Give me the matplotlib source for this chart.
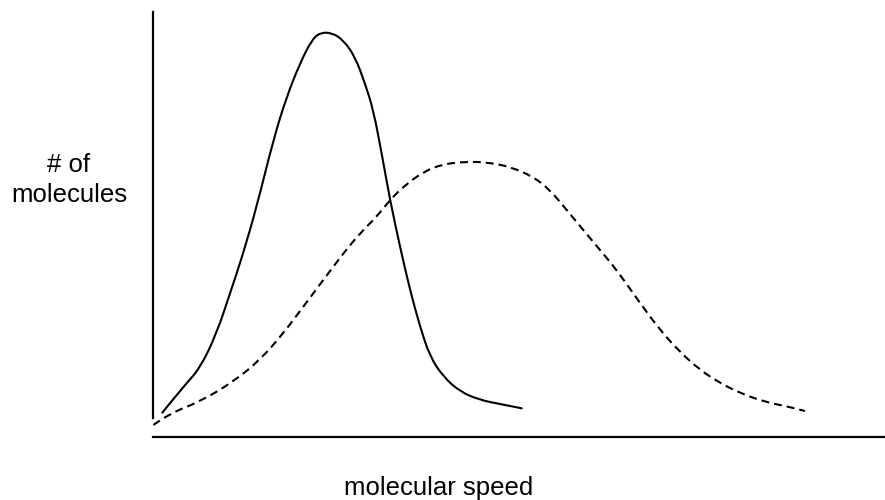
import matplotlib
matplotlib.use('Agg')
import matplotlib.pyplot as plt
from matplotlib.path import Path
from matplotlib.patches import PathPatch

plt.rcParams['font.family'] = ['Liberation Sans', 'DejaVu Sans']

# solid curve (lower temperature)
cold_speed = [1.27, 4.14, 6.42, 8.70, 10.52, 12.12, 14.17, 16.43, 18.26, 20.08,
              21.68, 22.81, 24.41, 26.00, 27.60, 28.96, 30.10, 31.24, 32.38,
              33.74, 35.11, 36.48, 37.84, 39.66, 41.94, 44.67, 47.40, 50.37]
cold_count = [5.72, 11.84, 16.16, 24.40, 33.81, 42.05, 54.19, 69.88, 80.07, 87.93,
              93.41, 95.13, 95.13, 93.41, 89.48, 83.22, 76.94, 66.75, 55.76,
              44.78, 34.59, 25.95, 18.89, 14.19, 10.66, 8.71, 7.76, 6.75]

# dashed curve (higher temperature)
hot_speed = [0.04, 2.32, 6.42, 10.97, 14.62, 17.80, 20.53, 23.26, 26.00, 28.28,
             30.56, 32.38, 34.19, 36.93, 39.66, 42.85, 45.59, 48.77, 51.95,
             54.23, 56.52, 58.78, 61.07, 63.35, 66.53, 69.26, 71.99, 74.73,
             77.46, 80.19, 83.61, 87.02, 89.07]
hot_count = [2.82, 5.58, 8.31, 13.01, 18.12, 24.40, 30.66, 36.94, 43.22, 47.93,
             51.84, 55.76, 58.89, 62.42, 64.24, 64.78, 64.64, 63.60, 61.25,
             58.12, 53.41, 48.71, 44.00, 39.29, 31.53, 25.18, 20.00, 15.76,
             12.71, 10.35, 8.24, 7.06, 6.12]


def smooth_path(xs, ys):
    # quadratic curve through the midpoints, the read points act as control points
    pts = list(zip(xs, ys))
    verts = [pts[0]]
    codes = [Path.MOVETO]
    for i in range(1, len(pts) - 1):
        mid = ((pts[i][0] + pts[i + 1][0]) / 2, (pts[i][1] + pts[i + 1][1]) / 2)
        if i == len(pts) - 2:
            mid = pts[-1]
        verts += [pts[i], mid]
        codes += [Path.CURVE3, Path.CURVE3]
    return Path(verts, codes)


fig = plt.figure(figsize=(8.85, 5), dpi=100)
ax = fig.add_axes([153 / 885, 63 / 500, 732 / 885, 425 / 500])
ax.set_xlim(0, 100)
ax.set_ylim(0, 100)

ax.add_patch(PathPatch(smooth_path(cold_speed, cold_count), fill=False,
                       edgecolor='black', lw=1.5, capstyle='round', joinstyle='round'))
ax.add_patch(PathPatch(smooth_path(hot_speed, hot_count), fill=False,
                       edgecolor='black', lw=1.5, linestyle=(0, (3.8, 2.4))))

for s in ['top', 'right']:
    ax.spines[s].set_visible(False)
ax.spines['left'].set_linewidth(1.6)
ax.spines['bottom'].set_linewidth(1.6)
ax.spines['left'].set_bounds(4.5, 100)
ax.set_xticks([])
ax.set_yticks([])

fig.text(69 / 885, 1 - 172 / 500, '# of', ha='center', va='baseline', fontsize=18.5)
fig.text(69 / 885, 1 - 202 / 500, 'molecules', ha='center', va='baseline', fontsize=18.5)
fig.text(439 / 885, 1 - 495 / 500, 'molecular speed', ha='center', va='baseline',
         fontsize=18.5)

fig.savefig('out.png', dpi=100)
